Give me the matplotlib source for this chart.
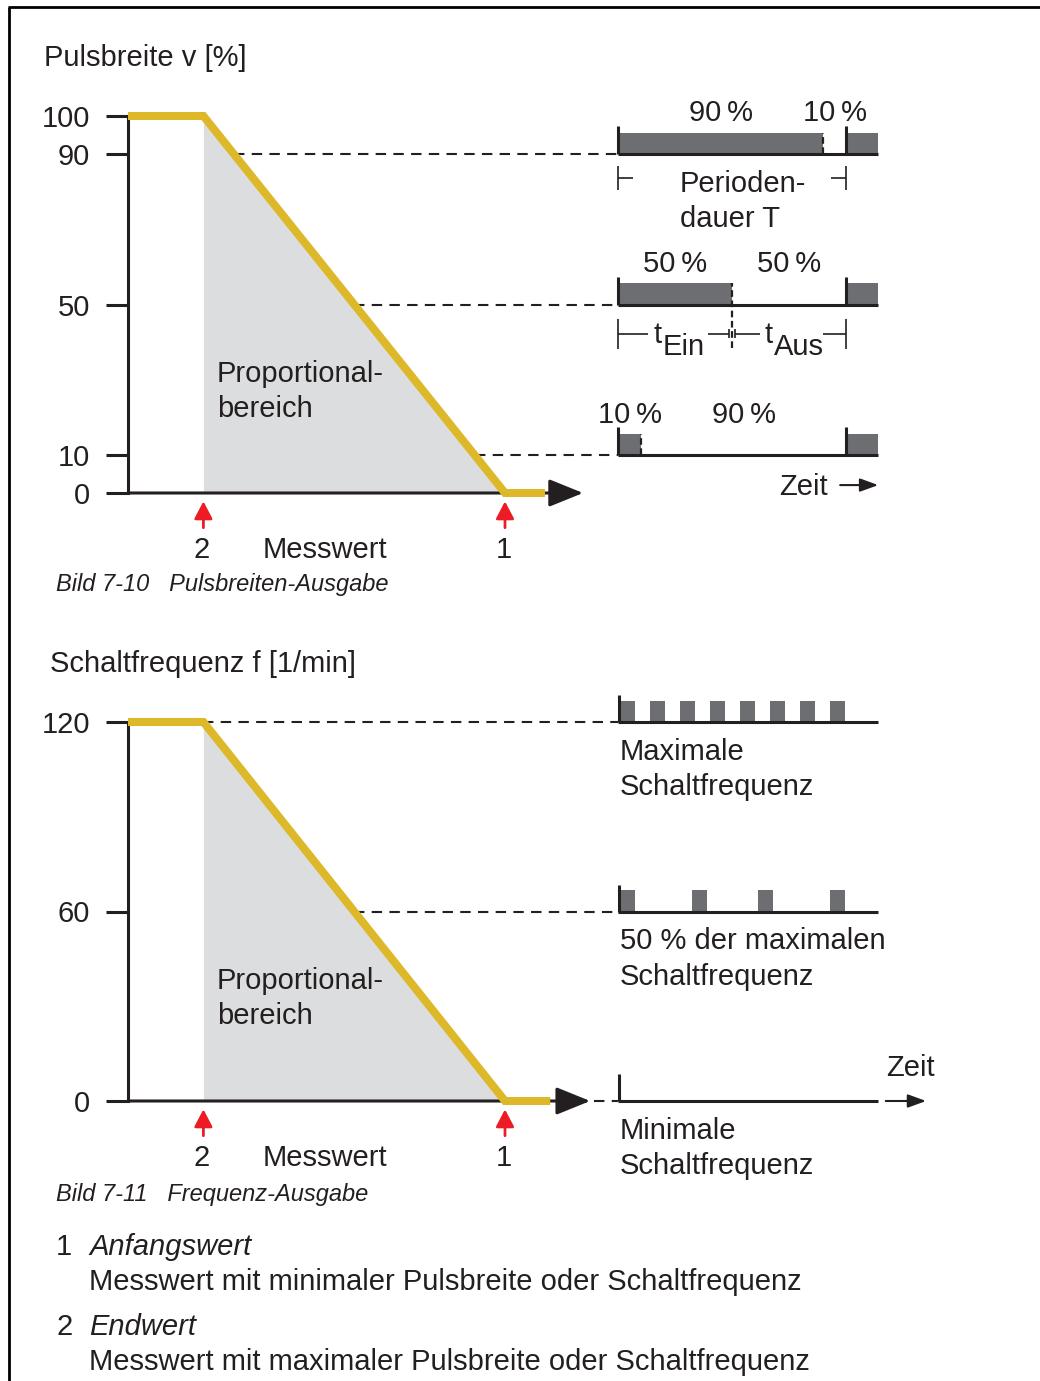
import matplotlib
matplotlib.use("Agg")
import matplotlib.pyplot as plt
import numpy as np

plt.rcParams['font.family'] = ['Liberation Sans', 'DejaVu Sans']

# ---- data -------------------------------------------------------------
# characteristic curves (x = Messwert, arbitrary units)
messwert_p = [0, 20, 100, 110.6]
pulsbreite = [100, 100, 0, 0]
messwert_f = [0, 20, 100, 112]
schaltfrequenz = [120, 120, 0, 0]
ENDWERT = 20        # point 2
ANFANGSWERT = 100   # point 1

pulse_ticks = [0, 10, 50, 90, 100]
freq_ticks = [0, 60, 120]

# pulse width trains (duty cycle in %)
duty_levels = [90, 50, 10]

# switching frequency trains: level -> pulse start times
freq_levels = [120, 60, 0]
max_freq_starts = [130.5, 138.5, 146.4, 154.4, 162.3, 170.3, 178.2, 186.3]
half_freq_starts = [130.5, 149.6, 167.1, 186.3]
min_freq_starts = []
freq_labels = ["Maximale\nSchaltfrequenz", "50 % der maximalen\nSchaltfrequenz",
               "Minimale\nSchaltfrequenz"]

# ---- layout / style ---------------------------------------------------
W, H = 1040, 1381
X0_PX, PX_PER_X = 128, 3.77
TOP_Y0_PX, TOP_PX_PER_Y = 493, 3.77
BOT_Y0_PX, BOT_PX_PER_Y = 1101, 379 / 120

TRAIN_START = 130.0
PERIOD = 60.5
TRAIN_END = 199.0
PULSE_W = 4.0

BLACK = '#231f20'
YELLOW = '#ddb829'
FILL = '#dcddde'
GRAY = '#6d6e71'
RED = '#ed1c24'
FS = 21
FS_CAP = 17
LW_AXIS = 2.2
DASH = (0, (5, 3.5))
LSP = 1.33


def chartAxes(fig, y0Px, pxPerY, yTicks):
	ax = fig.add_axes([0, 0, 1, 1])
	ax.set_xlim(-X0_PX / PX_PER_X, (W - X0_PX) / PX_PER_X)
	ax.set_ylim(-(H - y0Px) / pxPerY, y0Px / pxPerY)
	ax.patch.set_alpha(0)
	for s in ['top', 'right', 'bottom']:
		ax.spines[s].set_visible(False)
	ax.spines['left'].set_position(('data', 0))
	ax.spines['left'].set_bounds(0, max(yTicks))
	ax.spines['left'].set_linewidth(LW_AXIS)
	ax.spines['left'].set_color(BLACK)
	ax.set_xticks([])
	ax.set_yticks(yTicks)
	ax.tick_params(axis='y', direction='out', length=15.5, width=LW_AXIS,
				   pad=12, labelsize=FS, colors=BLACK)
	return ax


def drawCurve(ax, xs, ys, arrowTip, title, titleX, titleY, textY):
	ax.fill_between(xs[1:3], ys[1:3], 0, color=FILL, lw=0, zorder=1)
	ax.plot(xs, ys, color=YELLOW, lw=5.8, solid_joinstyle='miter',
			solid_capstyle='butt', zorder=4)
	ax.annotate('', xy=(arrowTip, 0), xytext=(0, 0),
				arrowprops=dict(arrowstyle='-|>,head_length=2.1,head_width=0.85',
								mutation_scale=10, lw=LW_AXIS, color=BLACK,
								shrinkA=0, shrinkB=0), zorder=3)
	ax.text(titleX, titleY, title, fontsize=FS, color=BLACK, va='center_baseline')
	ax.text(23.6, textY, "Proportional-\nbereich", fontsize=FS, color=BLACK,
			va='center', linespacing=LSP)
	for xv, lab in [(ENDWERT, "2"), (ANFANGSWERT, "1")]:
		ax.annotate('', xy=(xv, 0), xytext=(0, -25), textcoords='offset points',
					arrowprops=dict(arrowstyle='-|>,head_length=1.05,head_width=0.55',
									mutation_scale=10, lw=2, color=RED,
									shrinkA=0, shrinkB=6))
		ax.annotate(lab, xy=(xv, 0), xytext=(-1, -39), textcoords='offset points',
					ha='center', va='center_baseline', fontsize=FS, color=BLACK)
	ax.annotate("Messwert", xy=(35.8, 0), xytext=(0, -39), textcoords='offset points',
				ha='left', va='center_baseline', fontsize=FS, color=BLACK)


def main():
	fig = plt.figure(figsize=(W / 100, H / 100), dpi=100)

	# background: frame, captions, legend (pixel coordinates)
	bg = fig.add_axes([0, 0, 1, 1])
	bg.set_xlim(0, W)
	bg.set_ylim(H, 0)
	bg.axis('off')
	bg.plot([8, W], [7, 7], color='black', lw=2, solid_capstyle='butt')
	bg.plot([9, 9], [7, H], color='black', lw=2, solid_capstyle='butt')
	bg.text(56, 582, "Bild 7-10   Pulsbreiten-Ausgabe", fontsize=FS_CAP,
			style='italic', color=BLACK, va='center_baseline')
	bg.text(56, 1192, "Bild 7-11   Frequenz-Ausgabe", fontsize=FS_CAP,
			style='italic', color=BLACK, va='center_baseline')
	legend = [("1", "Anfangswert", "Messwert mit minimaler Pulsbreite oder Schaltfrequenz", 1244),
			  ("2", "Endwert", "Messwert mit maximaler Pulsbreite oder Schaltfrequenz", 1324)]
	for num, head, desc, yy in legend:
		bg.text(56, yy, num, fontsize=FS, color=BLACK, va='center_baseline')
		bg.text(89, yy, head, fontsize=FS, style='italic', color=BLACK, va='center_baseline')
		bg.text(89, yy + 35, desc, fontsize=FS, color=BLACK, va='center_baseline')

	# ---- top chart: pulse width ----
	ax1 = chartAxes(fig, TOP_Y0_PX, TOP_PX_PER_Y, pulse_ticks)
	drawCurve(ax1, messwert_p, pulsbreite, 120.7, "Pulsbreite v [%]", -22.3, 116.2, 27.0)

	pulseH, markH = 5.6, 7.4
	for d in duty_levels:
		onW = d / 100 * PERIOD
		onEnd = TRAIN_START + onW
		xCross = np.interp(d, [0, 100], [ANFANGSWERT, ENDWERT])
		ax1.hlines(d, xCross, TRAIN_START, colors=BLACK, lw=1.5, linestyles=DASH, zorder=2)
		ax1.bar([TRAIN_START, TRAIN_START + PERIOD], pulseH,
				width=[onW, TRAIN_END - TRAIN_START - PERIOD], bottom=d,
				align='edge', color=GRAY, lw=0, zorder=2)
		ax1.hlines(d, TRAIN_START, TRAIN_END, colors=BLACK, lw=LW_AXIS, zorder=3)
		ax1.vlines([TRAIN_START, TRAIN_START + PERIOD], d, d + markH,
				   colors=BLACK, lw=LW_AXIS, zorder=3)
		lowEnd = d - 11.5 if d == 50 else d
		ax1.vlines(onEnd, lowEnd, d + pulseH, colors=BLACK, lw=1.6,
				   linestyles=(0, (3, 1.6)), zorder=3)
		ax1.text(TRAIN_START + onW / 2, d + 11.5, f"{d}\u2009%", fontsize=FS,
				 color=BLACK, ha='center', va='center_baseline')
		ax1.text(onEnd + (PERIOD - onW) / 2, d + 11.5, f"{100 - d}\u2009%", fontsize=FS,
				 color=BLACK, ha='center', va='center_baseline')

		if d == 90:
			yDim = d - 6.4
			ax1.vlines([TRAIN_START, TRAIN_START + PERIOD], yDim - 3.2, yDim + 3.2,
					   colors=BLACK, lw=1.2)
			ax1.hlines(yDim, TRAIN_START, TRAIN_START + 4, colors=BLACK, lw=1.2)
			ax1.hlines(yDim, TRAIN_START + PERIOD - 4, TRAIN_START + PERIOD, colors=BLACK, lw=1.2)
			ax1.text(146.4, yDim - 6.2, "Perioden-\ndauer T", fontsize=FS, color=BLACK,
					 ha='left', va='center', linespacing=LSP)
		if d == 50:
			yDim = d - 7.8
			ax1.vlines([TRAIN_START, TRAIN_START + PERIOD], yDim - 4, yDim + 4,
					   colors=BLACK, lw=1.2)
			ax1.vlines([onEnd - 0.8, onEnd + 0.8], yDim - 1.2, yDim + 1.2, colors=BLACK, lw=1.2)
			segs = [(TRAIN_START, TRAIN_START + 8), (onEnd - 6.5, onEnd - 0.8),
					(onEnd + 0.8, onEnd + 7.5), (TRAIN_START + PERIOD - 6.1, TRAIN_START + PERIOD)]
			for a, b in segs:
				ax1.hlines(yDim, a, b, colors=BLACK, lw=1.2)
			for xt, sub in [(TRAIN_START + 9.3, "Ein"), (onEnd + 8.6, "Aus")]:
				ax1.text(xt, yDim + 0.5, "t", fontsize=FS, color=BLACK,
						 ha='left', va='center_baseline')
				ax1.text(xt + 2.6, yDim - 2.7, sub, fontsize=FS, color=BLACK,
						 ha='left', va='center_baseline')

	ax1.text(185.7, 2.4, "Zeit", fontsize=FS, color=BLACK, ha='right', va='center_baseline')
	ax1.annotate('', xy=(TRAIN_END, 2.1), xytext=(188.9, 2.1),
				 arrowprops=dict(arrowstyle='-|>,head_length=1.1,head_width=0.4',
								 mutation_scale=10, lw=1.5, color=BLACK,
								 shrinkA=0, shrinkB=0))

	# ---- bottom chart: switching frequency ----
	ax2 = chartAxes(fig, BOT_Y0_PX, BOT_PX_PER_Y, freq_ticks)
	drawCurve(ax2, messwert_f, schaltfrequenz, 122.6, "Schaltfrequenz f [1/min]",
			  -20.7, 139.3, 32.4)

	pulseH, markH = 6.65, 8.5
	freqStarts = [max_freq_starts, half_freq_starts, min_freq_starts]
	for lev, starts, lab in zip(freq_levels, freqStarts, freq_labels):
		if lev > 0:
			xCross = np.interp(lev, [0, 120], [ANFANGSWERT, ENDWERT])
		else:
			xCross = 123.5
		ax2.hlines(lev, xCross, TRAIN_START, colors=BLACK, lw=1.5, linestyles=DASH, zorder=2)
		if starts:
			ax2.bar(starts, pulseH, width=PULSE_W, bottom=lev, align='edge',
					color=GRAY, lw=0, zorder=2)
		ax2.hlines(lev, TRAIN_START, TRAIN_END, colors=BLACK, lw=LW_AXIS, zorder=3)
		ax2.vlines(TRAIN_START + 0.3, lev, lev + markH, colors=BLACK, lw=LW_AXIS, zorder=3)
		ax2.text(TRAIN_START + 0.5, lev - 15.0, lab, fontsize=FS, color=BLACK,
				 ha='left', va='center', linespacing=LSP)

	ax2.text(201, 11.4, "Zeit", fontsize=FS, color=BLACK, ha='left', va='center_baseline')
	ax2.annotate('', xy=(211.7, 0), xytext=(201, 0),
				 arrowprops=dict(arrowstyle='-|>,head_length=1.1,head_width=0.4',
								 mutation_scale=10, lw=1.5, color=BLACK,
								 shrinkA=0, shrinkB=0))

	fig.savefig("out.png", dpi=100)
	return 0


if __name__ == '__main__':
	import sys
	sys.exit(main())
